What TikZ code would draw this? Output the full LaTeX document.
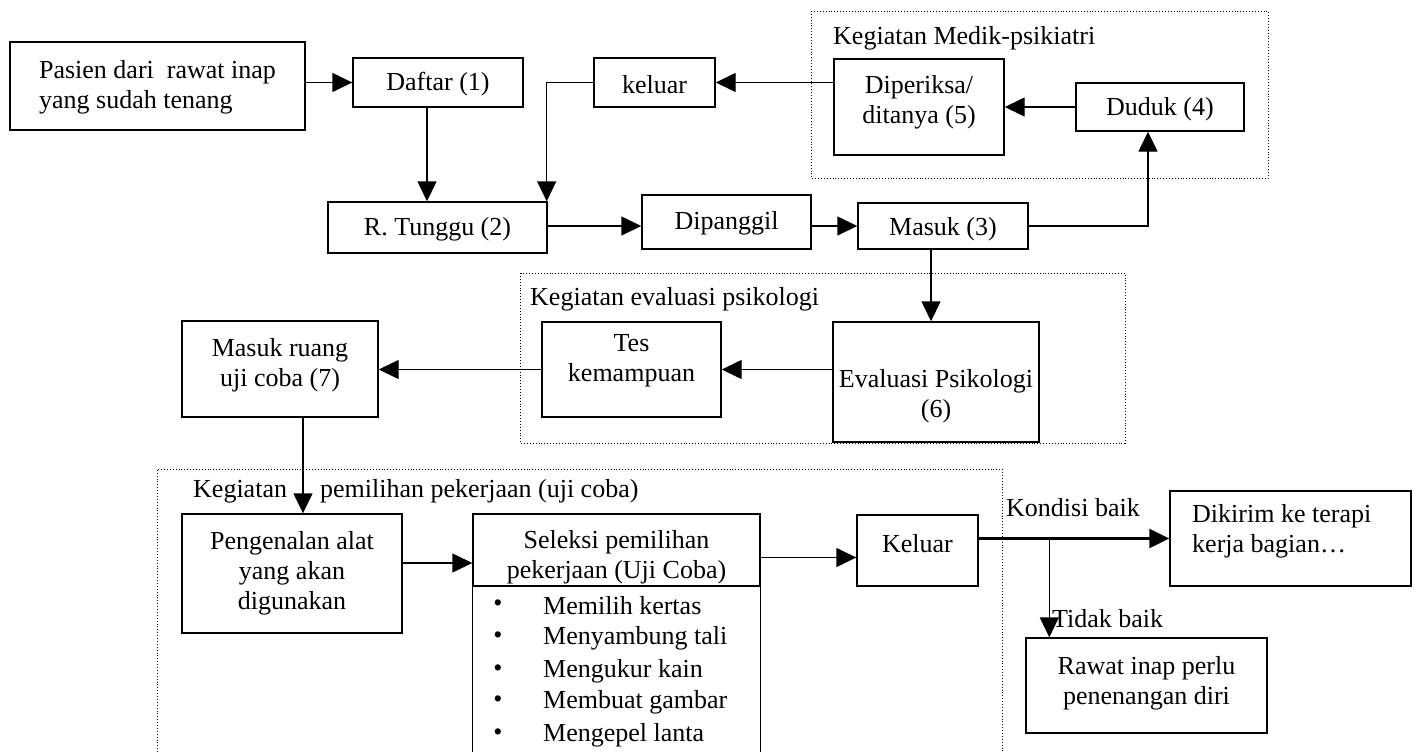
\documentclass[tikz,border=0pt]{standalone}
\usepackage{fontspec}
\setmainfont{Liberation Serif}
\usetikzlibrary{arrows.meta,calc}
\begin{document}
\begin{tikzpicture}[x=1pt,y=-1pt,
  box/.style={draw, line width=1.4pt, inner sep=0pt, align=center, font=\fontsize{26}{30}\selectfont},
  grp/.style={draw, dotted, line width=0.9pt},
  txt/.style={inner sep=0pt, align=center, font=\fontsize{26}{30}\selectfont},
  arr/.style={line width=1.4pt, -{Triangle[length=20pt,width=19pt]}},
  ln/.style={line width=1.4pt}]
\useasboundingbox (0,0) rectangle (1416,752);
\coordinate (bot) at (0,752);

% group frames
\draw[grp] (811,11) rectangle (1268,178);
\node[txt, anchor=west] (gmedik) at (833,38) {Kegiatan Medik-psikiatri};
\draw[grp] (520,273) rectangle (1125,443);
\node[txt, anchor=west] (geval) at (530,299) {Kegiatan evaluasi psikologi};
\draw[grp] (157,752) -- (157,469) -- (1002,469) -- (1002,752);
\node[txt, anchor=west] (gpilih) at (193,491) {Kegiatan\hspace{33pt}pemilihan pekerjaan (uji coba)};

% boxes
\node[box, minimum width=295pt, minimum height=88pt] (pasien) at (157.5,86) {};
\node[txt, align=left] (pasienT) at (157.5,87) {Pasien dari\ \ rawat inap\\yang sudah tenang};
\node[box, minimum width=170pt, minimum height=49pt] (daftar) at (438,82.5) {};
\node[txt] (daftarT) at (438,84.5) {Daftar (1)};
\node[box, minimum width=121pt, minimum height=49pt] (keluar) at (654.5,82.5) {};
\node[txt] (keluarT) at (654.5,84.5) {keluar};
\node[box, minimum width=170pt, minimum height=96pt] (diperiksa) at (919,107) {};
\node[txt] (diperiksaT) at (919,102) {Diperiksa/\\ditanya (5)};
\node[box, minimum width=168pt, minimum height=48pt] (duduk) at (1160,107) {};
\node[txt] (dudukT) at (1160,109) {Duduk (4)};
\node[box, minimum width=219pt, minimum height=51pt] (rtunggu) at (437.5,227.5) {};
\node[txt] (rtungguT) at (437.5,229.5) {R. Tunggu (2)};
\node[box, minimum width=169pt, minimum height=54pt] (dipanggil) at (726.5,222) {};
\node[txt] (dipanggilT) at (726.5,223) {Dipanggil};
\node[box, minimum width=170pt, minimum height=46pt] (masuk) at (943,226) {};
\node[txt] (masukT) at (943,229) {Masuk (3)};
\node[box, minimum width=179pt, minimum height=95pt] (tes) at (631.5,369.5) {};
\node[txt] (tesT) at (631.5,361) {Tes\\kemampuan};
\node[box, minimum width=206pt, minimum height=120pt] (evalpsi) at (936,382) {};
\node[txt] (evalpsiT) at (936,396) {Evaluasi Psikologi\\(6)};
\node[box, minimum width=196pt, minimum height=96pt] (ruang) at (280,369) {};
\node[txt] (ruangT) at (280,365) {Masuk ruang\\uji coba (7)};
\node[box, minimum width=220pt, minimum height=119pt] (kenal) at (292,573.5) {};
\node[txt] (kenalT) at (292,573) {Pengenalan alat\\yang akan\\digunakan};
\node[box, minimum width=287pt, minimum height=72pt] (seltop) at (616.5,550) {};
\node[txt] (seltopT) at (616.5,557) {Seleksi pemilihan\\pekerjaan (Uji Coba)};
\draw[ln] (seltop.south west) -- (seltop.south west |- bot);
\draw[ln] (seltop.south east) -- (seltop.south east |- bot);
\foreach \i/\t/\yy in {1/Memilih kertas/606, 2/Menyambung tali/638, 3/Mengukur kain/671, 4/Membuat gambar/702, 5/Mengepel lanta/735} {
  \node[txt] (b\i) at (498,\yy) {\textbullet};
  \node[txt, anchor=west] (l\i) at (543,\yy) {\t};
}
\node[box, minimum width=121pt, minimum height=71pt] (keluar2) at (917.5,550.5) {};
\node[txt] (keluar2T) at (917.5,544) {Keluar};
\node[box, minimum width=241pt, minimum height=95pt] (dikirim) at (1290.5,538.5) {};
\node[txt, anchor=west, align=left] (dikirimT) at (1192,531) {Dikirim ke terapi\\kerja bagian\ldots};
\node[box, minimum width=241pt, minimum height=95pt] (rawat) at (1146.5,685.5) {};
\node[txt] (rawatT) at (1146.5,683) {Rawat inap perlu\\penenangan diri};
\node[txt, anchor=west] (kondisi) at (1006,508) {Kondisi baik};
\node[txt, anchor=west] (tidak) at (1052,619) {Tidak baik};

% connectors
\draw[arr] (pasien.east |- daftar.west) -- (daftar.west);
\draw[arr] ([xshift=-11pt]daftar.south) -- ([xshift=-11pt]daftar.south |- rtunggu.north);
\draw[arr] (diperiksa.west |- keluar.east) -- (keluar.east);
\draw[arr] (keluar.west) -| ([xshift=-1pt]rtunggu.north east);
\draw[arr] (duduk.west) -- (duduk.west -| diperiksa.east);
\draw[arr] ([yshift=1.5pt]rtunggu.east) -- ([yshift=1.5pt]rtunggu.east -| dipanggil.west);
\draw[arr] (dipanggil.east |- masuk.west) -- (masuk.west);
\draw[arr] (masuk.east) -| ([xshift=-12pt]duduk.south);
\draw[arr] ([xshift=-12pt]masuk.south) -- ([xshift=-12pt]masuk.south |- evalpsi.north);
\draw[arr] (evalpsi.west |- tes.east) -- (tes.east);
\draw[arr] (tes.west) -- (tes.west -| ruang.east);
\draw[arr] ([xshift=23pt]ruang.south) -- ([xshift=23pt]ruang.south |- kenal.north);
\draw[arr] ([yshift=10.5pt]kenal.east) -- ([yshift=10.5pt]kenal.east -| seltop.west);
\draw[arr] ([yshift=-7.5pt]seltop.east) -- ([yshift=-7.5pt]seltop.east -| keluar2.west);
\draw[arr, line width=2.4pt] (keluar2.east |- dikirim.west) -- (dikirim.west);
\draw[arr] ([xshift=24pt]rawat.north west |- dikirim.west) -- ([xshift=24pt]rawat.north west);
\end{tikzpicture}
\end{document}
